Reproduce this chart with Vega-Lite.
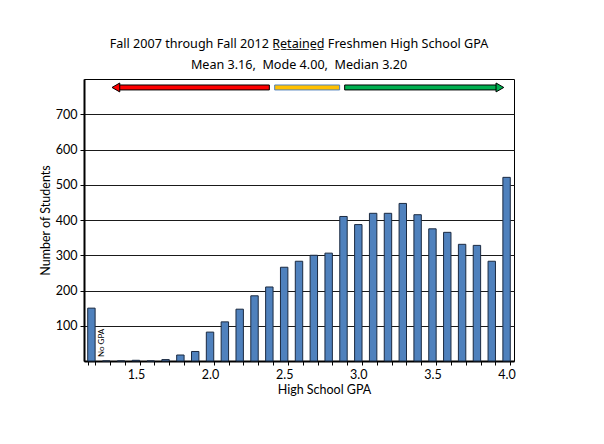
{
  "$schema": "https://vega.github.io/schema/vega-lite/v6.json",
  "width": 430,
  "height": 282,
  "autosize": {"type": "none"},
  "padding": {"left": 84, "top": 79, "right": 90, "bottom": 83},
  "background": "white",
  "config": {
    "font": "Lato",
    "view": {"stroke": "black", "strokeWidth": 1},
    "axis": {"labelFont": "Lato", "titleFont": "Lato", "labelColor": "black", "titleColor": "black", "labelFontSize": 12.5, "titleFontSize": 12.5, "titleFontWeight": "normal"}
  },
  "title": {
    "text": ["Fall 2007 through Fall 2012 R\u0332e\u0332t\u0332a\u0332i\u0332n\u0332e\u0332d\u0332 Freshmen High School GPA", "Mean 3.16,\u00a0 Mode 4.00,\u00a0 Median 3.20"],
    "font": "Noto Sans",
    "fontSize": 12.6,
    "fontWeight": "normal",
    "color": "black",
    "lineHeight": 21,
    "offset": 7,
    "anchor": "middle"
  },
  "datasets": {
    "bars": [
      {"gpa": "No GPA", "n": 150},
      {"gpa": "1.3", "n": 0},
      {"gpa": "1.4", "n": 0},
      {"gpa": "1.5", "n": 2},
      {"gpa": "1.6", "n": 0},
      {"gpa": "1.7", "n": 4},
      {"gpa": "1.8", "n": 17},
      {"gpa": "1.9", "n": 27},
      {"gpa": "2.0", "n": 82},
      {"gpa": "2.1", "n": 111},
      {"gpa": "2.2", "n": 147},
      {"gpa": "2.3", "n": 185},
      {"gpa": "2.4", "n": 210},
      {"gpa": "2.5", "n": 266},
      {"gpa": "2.6", "n": 283},
      {"gpa": "2.7", "n": 300},
      {"gpa": "2.8", "n": 306},
      {"gpa": "2.9", "n": 410},
      {"gpa": "3.0", "n": 387},
      {"gpa": "3.1", "n": 419},
      {"gpa": "3.2", "n": 419},
      {"gpa": "3.3", "n": 447},
      {"gpa": "3.4", "n": 415},
      {"gpa": "3.5", "n": 375},
      {"gpa": "3.6", "n": 365},
      {"gpa": "3.7", "n": 331},
      {"gpa": "3.8", "n": 328},
      {"gpa": "3.9", "n": 283},
      {"gpa": "4.0", "n": 521}
    ],
    "ranges": [
      {"range": "low", "lo": 1.38, "hi": 2.40},
      {"range": "mid", "lo": 2.436, "hi": 2.874},
      {"range": "high", "lo": 2.908, "hi": 3.94}
    ],
    "heads": [
      {"range": "low", "at": 1.365},
      {"range": "high", "at": 3.955}
    ]
  },
  "layer": [
    {
      "data": {"name": "bars"},
      "layer": [
        {
          "mark": {"type": "bar", "fill": "#4F81BD", "stroke": "#1B2A41", "strokeWidth": 1},
          "encoding": {
            "x": {
              "field": "gpa", "type": "nominal", "sort": null,
              "scale": {"paddingInner": 0.5, "paddingOuter": 0.25},
              "axis": {
                "title": "High School GPA",
                "titleX": 240,
                "labelExpr": "(datum.value == '1.5' || datum.value == '2.0' || datum.value == '2.5' || datum.value == '3.0' || datum.value == '3.5' || datum.value == '4.0') ? datum.value : ''",
                "labelAngle": 0,
                "labelOverlap": false,
                "labelPadding": 3,
                "tickBand": "extent",
                "tickSize": 4,
                "tickColor": "black",
                "domainColor": "black",
                "domainWidth": 2,
                "titlePadding": 3,
                "grid": false
              }
            },
            "y": {
              "field": "n", "type": "quantitative",
              "scale": {"domain": [0, 800], "nice": false},
              "axis": {
                "title": "Number of Students",
                "values": [100, 200, 300, 400, 500, 600, 700],
                "grid": true,
                "gridColor": "#1a1a1a",
                "gridWidth": 1,
                "gridOpacity": 1,
                "tickSize": 4,
                "tickColor": "black",
                "domainColor": "black",
                "domainWidth": 2,
                "labelPadding": 3,
                "titlePadding": 3
              }
            }
          }
        },
        {
          "transform": [{"filter": "datum.gpa == 'No GPA'"}],
          "mark": {"type": "text", "angle": 270, "align": "left", "baseline": "middle", "fontSize": 8, "font": "Lato", "color": "black", "dx": 4, "dy": 11},
          "encoding": {
            "x": {"field": "gpa", "type": "nominal", "sort": null},
            "y": {"datum": 0, "type": "quantitative"},
            "text": {"field": "gpa"}
          }
        }
      ]
    },
    {
      "layer": [
        {
          "data": {"name": "ranges"},
          "mark": {"type": "rect", "strokeWidth": 1},
          "encoding": {
            "x": {"field": "lo", "type": "quantitative", "scale": {"domain": [1.15, 4.05], "nice": false, "zero": false}, "axis": null},
            "x2": {"field": "hi"},
            "y": {"datum": 769, "type": "quantitative"},
            "y2": {"datum": 783},
            "fill": {"field": "range", "type": "nominal", "scale": {"domain": ["low", "mid", "high"], "range": ["#FF0000", "#FFC000", "#00B050"]}, "legend": null},
            "stroke": {"field": "range", "type": "nominal", "scale": {"domain": ["low", "mid", "high"], "range": ["#000000", "#4F81BD", "#000000"]}, "legend": null}
          }
        },
        {
          "data": {"name": "heads"},
          "transform": [{"filter": "datum.range == 'low'"}],
          "mark": {"type": "point", "shape": "triangle-left", "filled": true, "size": 80, "stroke": "black", "strokeWidth": 1, "opacity": 1},
          "encoding": {
            "x": {"field": "at", "type": "quantitative"},
            "y": {"datum": 776, "type": "quantitative"},
            "fill": {"field": "range", "type": "nominal", "legend": null}
          }
        },
        {
          "data": {"name": "heads"},
          "transform": [{"filter": "datum.range == 'high'"}],
          "mark": {"type": "point", "shape": "triangle-right", "filled": true, "size": 80, "stroke": "black", "strokeWidth": 1, "opacity": 1},
          "encoding": {
            "x": {"field": "at", "type": "quantitative"},
            "y": {"datum": 776, "type": "quantitative"},
            "fill": {"field": "range", "type": "nominal", "legend": null}
          }
        }
      ]
    }
  ],
  "resolve": {"scale": {"x": "independent"}, "axis": {"x": "independent"}}
}
